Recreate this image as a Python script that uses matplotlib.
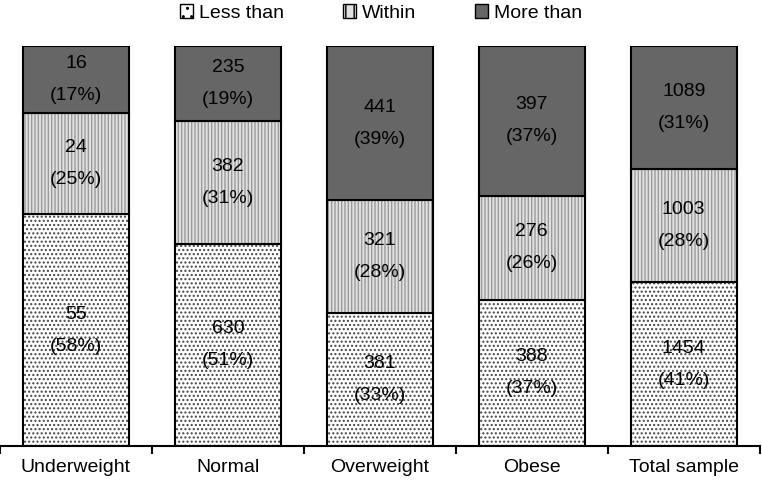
import numpy as np
import matplotlib
matplotlib.use("Agg")
import matplotlib.pyplot as plt
from matplotlib.patches import Patch

plt.rcParams['font.family'] = ['Liberation Sans', 'DejaVu Sans']
plt.rcParams['hatch.linewidth'] = 1.0

categories = ['Underweight', 'Normal', 'Overweight', 'Obese', 'Total sample']
less_than = [55, 630, 381, 388, 1454]
within = [24, 382, 321, 276, 1003]
more_than = [16, 235, 441, 397, 1089]
series_names = ['Less than', 'Within', 'More than']

counts = np.array([less_than, within, more_than], dtype=float)
shares = counts / counts.sum(axis=0)

faces = ['white', '#e2e2e2', '#666666']
hatches = ['....', '|||||', None]
hatch_cols = ['#444444', '#9a9a9a', None]

fig = plt.figure(figsize=(7.62, 4.83), dpi=100)
ax = fig.add_axes([0.0, 0.0766, 0.997, 0.828])

x = np.arange(len(categories))
w = 0.7
bottom = np.zeros(len(categories))
for i in range(3):
    ax.bar(x, shares[i], w, bottom=bottom, color=faces[i], linewidth=0)
    if hatches[i]:
        ax.bar(x, shares[i], w, bottom=bottom, fill=False, hatch=hatches[i],
               edgecolor=hatch_cols[i], linewidth=0)
    ax.bar(x, shares[i], w, bottom=bottom, fill=False, edgecolor='black', linewidth=1.5)
    for j in range(len(categories)):
        cy = bottom[j] + shares[i][j] / 2
        ax.text(x[j], cy + 0.04, '%d' % counts[i][j], ha='center', va='center', fontsize=14)
        ax.text(x[j], cy - 0.04, '(%d%%)' % round(shares[i][j] * 100), ha='center', va='center', fontsize=14)
    bottom += shares[i]

ax.set_xlim(-0.5, len(categories) - 0.5)
ax.set_ylim(0, 1)
for s in ['top', 'right', 'left']:
    ax.spines[s].set_visible(False)
ax.spines['bottom'].set_linewidth(1.5)
ax.set_yticks([])
ax.set_xticks(x)
ax.set_xticklabels(categories, fontsize=14)
ax.tick_params(axis='x', which='major', length=0, pad=9)
ax.set_xticks(np.arange(-0.5, len(categories)), minor=True)
ax.tick_params(axis='x', which='minor', length=6, width=1.5, direction='out')

handles = [Patch(facecolor=faces[i], edgecolor='black', hatch=hatches[i] and hatches[i][:2], linewidth=1)
           for i in range(3)]
fig.legend(handles, series_names, loc='upper center', bbox_to_anchor=(0.5, 1.027), ncol=3,
           frameon=False, fontsize=14, handlelength=0.7, handleheight=0.7,
           handletextpad=0.3, columnspacing=3.0)

fig.savefig('out.png', dpi=100)
